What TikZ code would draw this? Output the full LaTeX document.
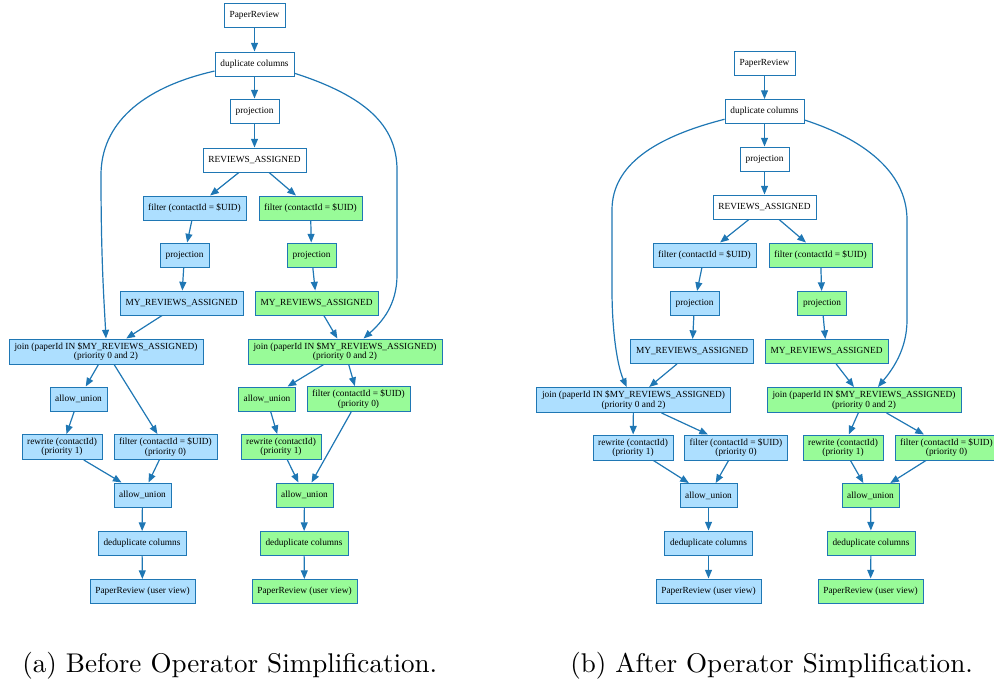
\documentclass[tikz,border=0pt]{standalone}
\usepackage{fontspec}
\newfontfamily\gvfont{Liberation Serif}
\newfontfamily\capfont{lmroman10-regular}[Extension=.otf]
\usetikzlibrary{arrows.meta,calc}
\definecolor{edgeblue}{RGB}{31,119,180}
\definecolor{opblue}{RGB}{173,223,255}
\definecolor{opgreen}{RGB}{152,251,152}
\begin{document}
\begin{tikzpicture}[x=0.75pt,y=-0.75pt,
  op/.style={draw=edgeblue, line width=0.75pt, fill=white,
    font=\gvfont\fontsize{7}{7}\selectfont, align=center,
    minimum height=24*0.75pt, inner sep=0pt, text=black},
  boxw/.style={minimum width=#1*0.75pt},
  tall/.style={minimum height=25*0.75pt},
  bl/.style={op, fill=opblue},
  gr/.style={op, fill=opgreen},
  flow/.style={draw=edgeblue, line width=0.9pt, -{Triangle[length=6.5pt,width=5.2pt]}},
  captext/.style={font=\capfont\fontsize{20.3}{24}\selectfont, anchor=base west, inner sep=0pt}
]
\useasboundingbox (0,0) rectangle (994,679);

% ---------- (a) before simplification ----------
\node[op, boxw=61]  (pa)   at (254.5,15)  {PaperReview};
\node[op, boxw=79]  (da)   at (254.5,64)  {duplicate columns};
\node[op, boxw=49]  (pja)  at (254.5,111) {projection};
\node[op, boxw=103] (ra)   at (254.5,160) {REVIEWS\_ASSIGNED};
\node[bl, boxw=103] (fba)  at (194.5,208) {filter (contactId = \$UID)};
\node[gr, boxw=103] (fga)  at (310.5,208) {filter (contactId = \$UID)};
\node[bl, boxw=49]  (pba)  at (184.5,255) {projection};
\node[gr, boxw=49]  (pga)  at (311.5,255) {projection};
\node[bl, boxw=123] (mba)  at (181.5,303) {MY\_REVIEWS\_ASSIGNED};
\node[gr, boxw=123] (mga)  at (316.5,303) {MY\_REVIEWS\_ASSIGNED};
\node[bl, boxw=194, tall] (jba) at (106,351.5) {join (paperId IN \$MY\_REVIEWS\_ASSIGNED)\\(priority 0 and 2)};
\node[gr, boxw=194, tall] (jga) at (345,351.5) {join (paperId IN \$MY\_REVIEWS\_ASSIGNED)\\(priority 0 and 2)};
\node[bl, boxw=57]  (uba)  at (78.5,399)  {allow\_union};
\node[gr, boxw=57]  (uga)  at (267,399)   {allow\_union};
\node[gr, boxw=103, tall] (fpga) at (358.5,399) {filter (contactId = \$UID)\\(priority 0)};
\node[bl, boxw=80, tall]  (rba)  at (62,447)    {rewrite (contactId)\\(priority 1)};
\node[bl, boxw=103, tall] (fpba) at (165.5,447) {filter (contactId = \$UID)\\(priority 0)};
\node[gr, boxw=80, tall]  (rga)  at (281,447)   {rewrite (contactId)\\(priority 1)};
\node[bl, boxw=57]  (aba)  at (142.5,495) {allow\_union};
\node[gr, boxw=57]  (aga)  at (304.5,495) {allow\_union};
\node[bl, boxw=88]  (dba)  at (142,543.5) {deduplicate columns};
\node[gr, boxw=88]  (dga)  at (304,543.5) {deduplicate columns};
\node[bl, boxw=105] (vba)  at (142.5,591.5) {PaperReview (user view)};
\node[gr, boxw=105] (vga)  at (304.5,591.5) {PaperReview (user view)};

\draw[flow] (pa) -- (da);
\draw[flow] (da) -- (pja);
\draw[flow] (pja) -- (ra);
\draw[flow] (ra) -- (fba);
\draw[flow] (ra) -- (fga);
\draw[flow] (fba) -- (pba);
\draw[flow] (fga) -- (pga);
\draw[flow] (pba) -- (mba);
\draw[flow] (pga) -- (mga);
\draw[flow] (mba) -- (jba);
\draw[flow] (mga) -- (jga);
\draw[flow] (da.190) .. controls (140,88) and (101,125) .. (101,175)
  .. controls (101,260) and (104,300) .. (jba.north);
\draw[flow] (da.-13) .. controls (365,96) and (397,125) .. (397,170)
  -- (397,275) .. controls (397,305) and (382,322) .. (jga.35);
\draw[flow] (jba) -- (uba);
\draw[flow] (jba) -- (fpba);
\draw[flow] (uba) -- (rba);
\draw[flow] (jga) -- (uga);
\draw[flow] (jga) -- (fpga);
\draw[flow] (uga) -- (rga);
\draw[flow] (rba) -- (aba);
\draw[flow] (fpba) -- (aba);
\draw[flow] (rga) -- (aga);
\draw[flow] (fpga) -- (aga);
\draw[flow] (aba) -- (dba);
\draw[flow] (dba) -- (vba);
\draw[flow] (aga) -- (dga);
\draw[flow] (dga) -- (vga);

% ---------- (b) after simplification ----------
\node[op, boxw=61]  (pb)   at (764.5,63.5) {PaperReview};
\node[op, boxw=79]  (db)   at (764.5,111.5) {duplicate columns};
\node[op, boxw=49]  (pjb)  at (764.5,159) {projection};
\node[op, boxw=103] (rb)   at (764.5,207) {REVIEWS\_ASSIGNED};
\node[bl, boxw=103] (fbb)  at (704.5,255) {filter (contactId = \$UID)};
\node[gr, boxw=103] (fgb)  at (820.5,255) {filter (contactId = \$UID)};
\node[bl, boxw=49]  (pbb)  at (694.5,303.5) {projection};
\node[gr, boxw=49]  (pgb)  at (822,303.5) {projection};
\node[bl, boxw=123] (mbb)  at (692,351.5) {MY\_REVIEWS\_ASSIGNED};
\node[gr, boxw=123] (mgb)  at (826.5,351.5) {MY\_REVIEWS\_ASSIGNED};
\node[bl, boxw=194, tall] (jbb) at (633.5,400) {join (paperId IN \$MY\_REVIEWS\_ASSIGNED)\\(priority 0 and 2)};
\node[gr, boxw=194, tall] (jgb) at (864,400) {join (paperId IN \$MY\_REVIEWS\_ASSIGNED)\\(priority 0 and 2)};
\node[bl, boxw=80, tall]  (rbb)  at (633,447.5) {rewrite (contactId)\\(priority 1)};
\node[bl, boxw=103, tall] (fpbb) at (736,447.5) {filter (contactId = \$UID)\\(priority 0)};
\node[gr, boxw=80, tall]  (rgb)  at (843,447.5) {rewrite (contactId)\\(priority 1)};
\node[gr, boxw=103, tall] (fpgb) at (946.5,447.5) {filter (contactId = \$UID)\\(priority 0)};
\node[bl, boxw=57]  (abb)  at (708.5,495.5) {allow\_union};
\node[gr, boxw=57]  (agb)  at (870.5,495.5) {allow\_union};
\node[bl, boxw=88]  (dbb)  at (708.5,543) {deduplicate columns};
\node[gr, boxw=88]  (dgb)  at (871,543) {deduplicate columns};
\node[bl, boxw=105] (vbb)  at (708.5,591) {PaperReview (user view)};
\node[gr, boxw=105] (vgb)  at (870.5,591) {PaperReview (user view)};

\draw[flow] (pb) -- (db);
\draw[flow] (db) -- (pjb);
\draw[flow] (pjb) -- (rb);
\draw[flow] (rb) -- (fbb);
\draw[flow] (rb) -- (fgb);
\draw[flow] (fbb) -- (pbb);
\draw[flow] (fgb) -- (pgb);
\draw[flow] (pbb) -- (mbb);
\draw[flow] (pgb) -- (mgb);
\draw[flow] (mbb) -- (jbb);
\draw[flow] (mgb) -- (jgb);
\draw[flow] (db.191) .. controls (655,137) and (612,165) .. (612,210)
  -- (612,290) .. controls (612,330) and (617,365) .. (jbb.118);
\draw[flow] (db.-12) .. controls (860,138) and (907,170) .. (907,220)
  -- (907,320) .. controls (907,350) and (892,370) .. (jgb.43);
\draw[flow] (jbb) -- (rbb);
\draw[flow] (jbb) -- (fpbb);
\draw[flow] (jgb) -- (rgb);
\draw[flow] (jgb) -- (fpgb);
\draw[flow] (rbb) -- (abb);
\draw[flow] (fpbb) -- (abb);
\draw[flow] (rgb) -- (agb);
\draw[flow] (fpgb) -- (agb);
\draw[flow] (abb) -- (dbb);
\draw[flow] (dbb) -- (vbb);
\draw[flow] (agb) -- (dgb);
\draw[flow] (dgb) -- (vgb);

% ---------- captions ----------
\node[captext] (capa) at (22,672) {(a) Before Operator Simplification.};
\node[captext] (capb) at (570,672) {(b) After Operator Simplification.};
\end{tikzpicture}
\end{document}
